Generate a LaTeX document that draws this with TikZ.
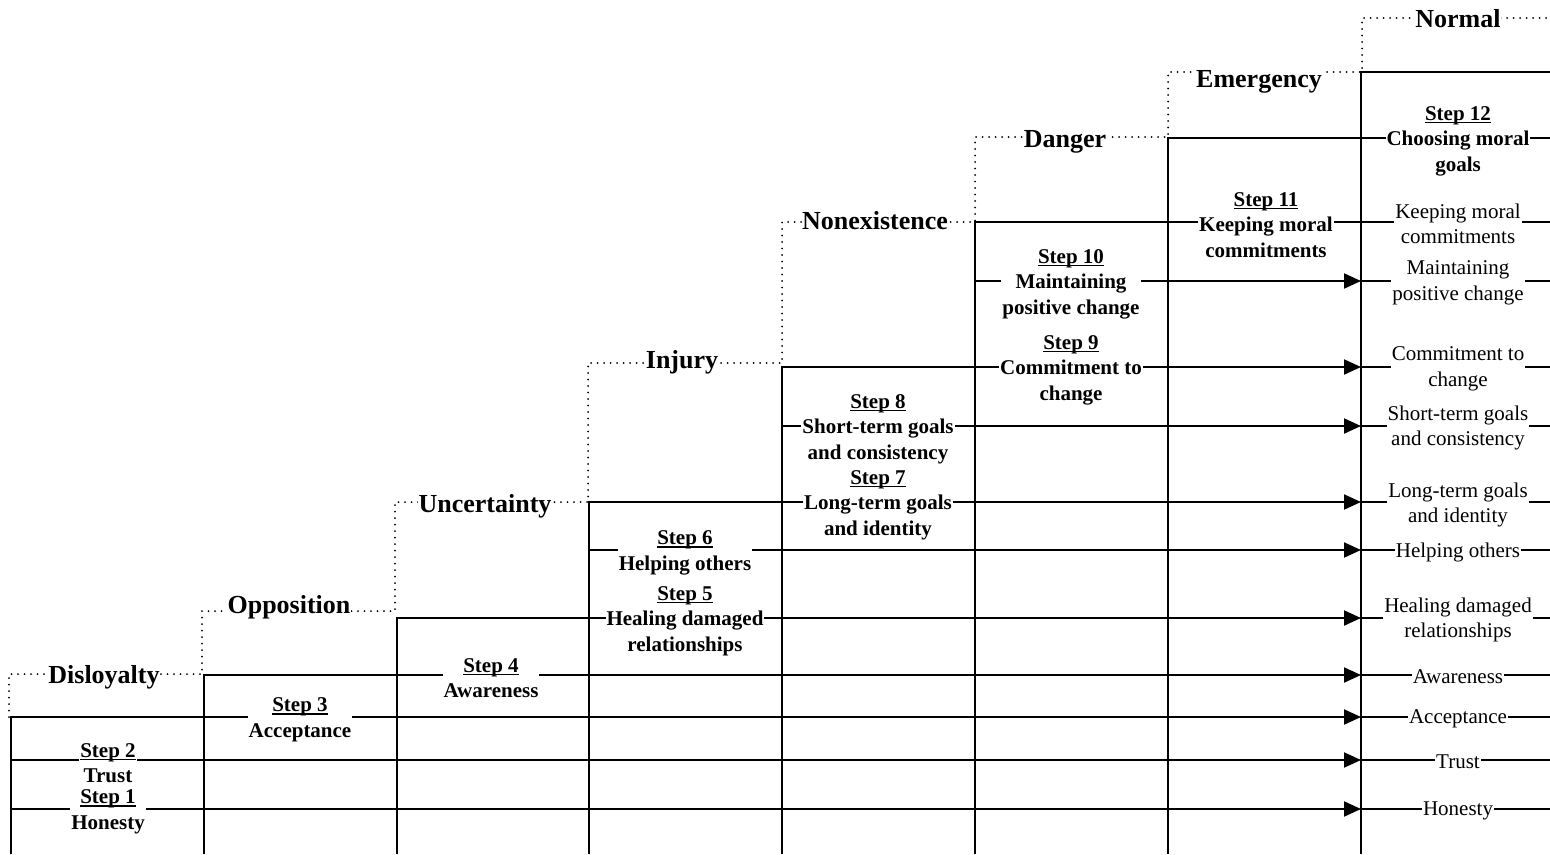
\documentclass[tikz,border=0pt]{standalone}
\usepackage{fontspec}
\setmainfont{Liberation Serif}
\usetikzlibrary{arrows.meta}
% underlined step number with a heavier rule
\newcommand\stepno[1]{\setbox0\hbox{#1}\rlap{\rule[-3pt]{\wd0}{1.5pt}}\box0}

\begin{document}
\begin{tikzpicture}[x=1pt,y=-1pt,
  wall/.style={line width=2pt},
  flow/.style={line width=2pt},
  tip/.style={-{Triangle[length=17pt,width=15pt]}},
  zone/.style={line width=2pt,dash pattern=on 0pt off 6.5pt,line cap=round},
  zonelabel/.style={fill=white,inner xsep=0.5pt,inner ysep=1pt,anchor=base,
    font=\fontsize{26}{30}\selectfont\bfseries},
  steplabel/.style={fill=white,inner xsep=1pt,inner ysep=0pt,align=center,yshift=-3pt,
    font=\fontsize{21}{25.5}\selectfont\bfseries},
  outlabel/.style={fill=white,inner xsep=1pt,inner ysep=0pt,align=center,yshift=-2pt,
    font=\fontsize{21}{25.5}\selectfont}]

\useasboundingbox (0,0) rectangle (1550,854);

% column walls: x position and top
\coordinate (t1) at (11,717);   \coordinate (b1) at (11,854);
\coordinate (t2) at (204,675);  \coordinate (b2) at (204,854);
\coordinate (t3) at (397,618);  \coordinate (b3) at (397,854);
\coordinate (t4) at (589,502);  \coordinate (b4) at (589,854);
\coordinate (t5) at (782,367);  \coordinate (b5) at (782,854);
\coordinate (t6) at (975,222);  \coordinate (b6) at (975,854);
\coordinate (t7) at (1168,138); \coordinate (b7) at (1168,854);
\coordinate (t8) at (1361,72);  \coordinate (b8) at (1361,854);
\coordinate (rtop) at (1550,72);

% dotted staircase of zones
\coordinate (d0) at (9,717);
\draw[zone] (d0) -- (9,674) -- (202,674) -- (202,611) -- (395,611)
  -- (395,502) -- (588,502) -- (588,363) -- (782,363) -- (782,222)
  -- (975,222) -- (975,137) -- (1168,137) -- (1168,72) -- (1362,72)
  -- (1362,18) -- (1550,18);

% flow end points on the last wall and on the right edge
\foreach \n/\y in {1/809,2/760,3/717,4/675,5/618,6/550,7/502,8/426,9/367,10/281,11/222,12/138}{
  \coordinate (e\n) at (1361,\y);
  \coordinate (r\n) at (1550,\y);
}
\coordinate (s1) at (11,809);
\coordinate (s2) at (11,760);
\coordinate (s6) at (589,550);
\coordinate (s8) at (782,426);
\coordinate (s10) at (975,281);

% walls with their top shelves
\draw[flow,tip] (b1) -- (t1) -- (e3);
\draw[flow,tip] (b2) -- (t2) -- (e4);
\draw[flow,tip] (b3) -- (t3) -- (e5);
\draw[flow,tip] (b4) -- (t4) -- (e7);
\draw[flow,tip] (b5) -- (t5) -- (e9);
\draw[flow] (b6) -- (t6) -- (e11);
\draw[flow] (b7) -- (t7) -- (r12);
\draw[wall] (b8) -- (t8) -- (rtop);

% remaining flows
\draw[flow,tip] (s1) -- (e1);
\draw[flow,tip] (s2) -- (e2);
\draw[flow,tip] (s6) -- (e6);
\draw[flow,tip] (s8) -- (e8);
\draw[flow,tip] (s10) -- (e10);

% outflows past the last wall
\foreach \n in {1,...,11}{
  \draw[flow] (e\n) -- (r\n);
}

% zone names
\node[zonelabel] (z1) at (104,683) {Disloyalty};
\node[zonelabel] (z2) at (289,613) {Opposition};
\node[zonelabel] (z3) at (485,512) {Uncertainty};
\node[zonelabel] (z4) at (682,368) {Injury};
\node[zonelabel] (z5) at (875,229) {Nonexistence};
\node[zonelabel] (z6) at (1065,147) {Danger};
\node[zonelabel] (z7) at (1259,87) {Emergency};
\node[zonelabel] (z8) at (1458,27) {Normal};

% steps
\node[steplabel] (st1) at (108,809) {\stepno{Step 1}\\Honesty};
\node[steplabel] (st2) at (108,760) {\stepno{Step 2}\\Trust};
\node[steplabel] (st3) at (300,717) {\stepno{Step 3}\\Acceptance};
\node[steplabel] (st4) at (491,675) {\stepno{Step 4}\\Awareness};
\node[steplabel] (st5) at (685,618) {\stepno{Step 5}\\Healing damaged\\relationships};
\node[steplabel] (st6) at (685,550) {\stepno{Step 6}\\Helping others};
\node[steplabel] (st7) at (878,502) {\stepno{Step 7}\\Long-term goals\\and identity};
\node[steplabel] (st8) at (878,426) {\stepno{Step 8}\\Short-term goals\\and consistency};
\node[steplabel] (st9) at (1071,367) {\stepno{Step 9}\\Commitment to\\change};
\node[steplabel] (st10) at (1071,281) {\stepno{Step 10}\\Maintaining\\positive change};
\node[steplabel] (st11) at (1266,222) {\stepno{Step 11}\\Keeping moral\\commitments};
\node[steplabel] (st12) at (1458,138) {\stepno{Step 12}\\Choosing moral\\goals};

% outcomes
\node[outlabel] (o1) at (1458,809) {Honesty};
\node[outlabel] (o2) at (1458,760) {Trust};
\node[outlabel] (o3) at (1458,717) {Acceptance};
\node[outlabel] (o4) at (1458,675) {Awareness};
\node[outlabel] (o5) at (1458,618) {Healing damaged\\relationships};
\node[outlabel] (o6) at (1458,550) {Helping others};
\node[outlabel] (o7) at (1458,503) {Long-term goals\\and identity};
\node[outlabel] (o8) at (1458,426) {Short-term goals\\and consistency};
\node[outlabel] (o9) at (1458,367) {Commitment to\\change};
\node[outlabel] (o10) at (1458,281) {Maintaining\\positive change};
\node[outlabel] (o11) at (1458,222) {Keeping moral\\commitments};
\end{tikzpicture}
\end{document}
